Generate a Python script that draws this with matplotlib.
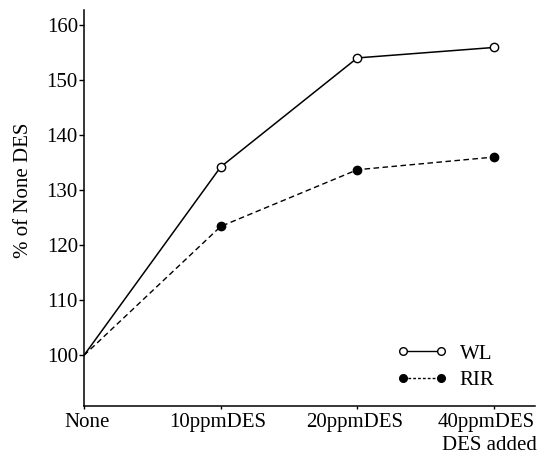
import matplotlib
matplotlib.use("Agg")
import matplotlib.pyplot as plt
from matplotlib.transforms import ScaledTranslation
from matplotlib.lines import Line2D

categories = ["None", "10ppmDES", "20ppmDES", "40ppmDES"]
wl = [100, 134.2, 154.0, 155.9]
rir = [100, 123.4, 133.7, 136.0]
yticks = [100, 110, 120, 130, 140, 150, 160]

plt.rcParams['font.family'] = ['Liberation Serif', 'DejaVu Serif']
FS = 15

fig = plt.figure(figsize=(5.41, 4.54), dpi=100)
ax = fig.add_axes([84/541, 1 - 406/454, 451/541, 396/454])

x = list(range(len(categories)))
ax.plot(x, wl, color='black', lw=1.1, ls='-', marker='o', ms=6,
        mfc='white', mec='black', mew=1.0, markevery=[1, 2, 3], label='WL')
ax.plot(x, rir, color='black', lw=1.0, ls=(0, (4, 2.5)), marker='o', ms=6,
        mfc='black', mec='black', markevery=[1, 2, 3], label='RIR')

ax.set_xlim(0, 3.3)
ax.set_ylim(90.8, 162.7)
ax.set_yticks(yticks)
ax.set_xticks(x)
ax.set_xticklabels(categories)
ax.tick_params(axis='both', labelsize=FS, direction='out', width=1)
ax.tick_params(axis='x', length=2.5, pad=2.5)
ax.tick_params(axis='y', length=3.6, pad=0.8)

for s in ['top', 'right']:
    ax.spines[s].set_visible(False)
for s in ['left', 'bottom']:
    ax.spines[s].set_linewidth(1.1)

lbls = ax.get_xticklabels()
lbls[0].set_transform(lbls[0].get_transform() + ScaledTranslation(3/100, 0, fig.dpi_scale_trans))
lbls[1].set_transform(lbls[1].get_transform() + ScaledTranslation(-3/100, 0, fig.dpi_scale_trans))
lbls[2].set_transform(lbls[2].get_transform() + ScaledTranslation(-3/100, 0, fig.dpi_scale_trans))
lbls[-1].set_transform(lbls[-1].get_transform() + ScaledTranslation(-7.5/100, 0, fig.dpi_scale_trans))

ax.set_ylabel('% of None DES', fontsize=FS)
ax.yaxis.set_label_coords(-0.114, 0.545)

ax.text(1.004, (406 - 450) / 396, 'DES added', transform=ax.transAxes,
        ha='right', va='baseline', fontsize=FS)

handles = [
    Line2D([0], [0], color='black', lw=1.0, ls='-', marker='o', ms=5.5, mfc='white', mec='black'),
    Line2D([0], [0], color='black', lw=1.0, ls=(0, (2, 1.5)), marker='o', ms=5.5, mfc='black', mec='black'),
]
leg = ax.legend(handles, ['WL', 'RIR'], loc='upper left',
                frameon=False, fontsize=FS, numpoints=2, handlelength=2.43,
                handletextpad=0.57, labelspacing=0.35, borderaxespad=0, borderpad=0)
leg.set_bbox_to_anchor((397/541, 1 - 344/454), transform=fig.transFigure)

fig.savefig('out.png', dpi=100)
